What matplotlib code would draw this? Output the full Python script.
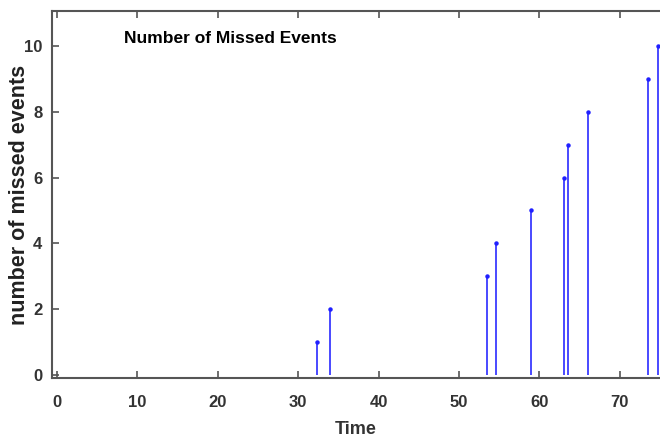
import matplotlib
matplotlib.use("Agg")
import matplotlib.pyplot as plt

# ====== DATA ======
times = [32.4, 33.9, 53.5, 54.6, 59.0, 63.1, 63.6, 66.0, 73.5, 74.8]
missed = [1, 2, 3, 4, 5, 6, 7, 8, 9, 10]
x_ticks = [0, 10, 20, 30, 40, 50, 60, 70]
y_ticks = [0, 2, 4, 6, 8, 10]

sans = ["Liberation Sans", "DejaVu Sans"]

fig = plt.figure(figsize=(6.6, 4.4), dpi=100)
ax = fig.add_axes([0.079, 0.141, 0.921, 0.834])

markers, stems, base = ax.stem(times, missed, linefmt="-", markerfmt="o", basefmt=" ")
plt.setp(stems, color="#3a3aff", linewidth=1.3)
plt.setp(markers, color="#2020ff", markersize=2.2)

ax.set_xlim(-0.6, 75.0)
ax.set_ylim(-0.08, 11.05)
ax.set_xticks(x_ticks)
ax.set_yticks(y_ticks)

for s in ["left", "bottom", "top"]:
    ax.spines[s].set_color("#555555")
    ax.spines[s].set_linewidth(1.5)
ax.spines["right"].set_visible(False)

ax.tick_params(axis="x", direction="in", top=True, length=5, width=1.2,
               color="#555555", pad=12)
ax.tick_params(axis="y", direction="in", length=5, width=1.2,
               color="#555555", pad=7)
for lbl in ax.get_xticklabels() + ax.get_yticklabels():
    lbl.set_family(sans)
    lbl.set_fontweight("bold")
    lbl.set_fontsize(12)
    lbl.set_color("#333333")

ax.text(0.118, 0.925, "Number of Missed Events", transform=ax.transAxes,
        family=sans, fontweight="bold", fontsize=12.5, color="black",
        va="center", ha="left")
ax.set_ylabel("number of missed events", family=sans,
              fontweight="bold", fontsize=15.5, color="#222222")
ax.yaxis.set_label_coords(-0.037, 0.5)
ax.set_xlabel("Time", family=sans, fontweight="bold", fontsize=13,
              color="#333333")
ax.xaxis.set_label_coords(0.5, -0.118)

fig.savefig("out.png", dpi=100)
